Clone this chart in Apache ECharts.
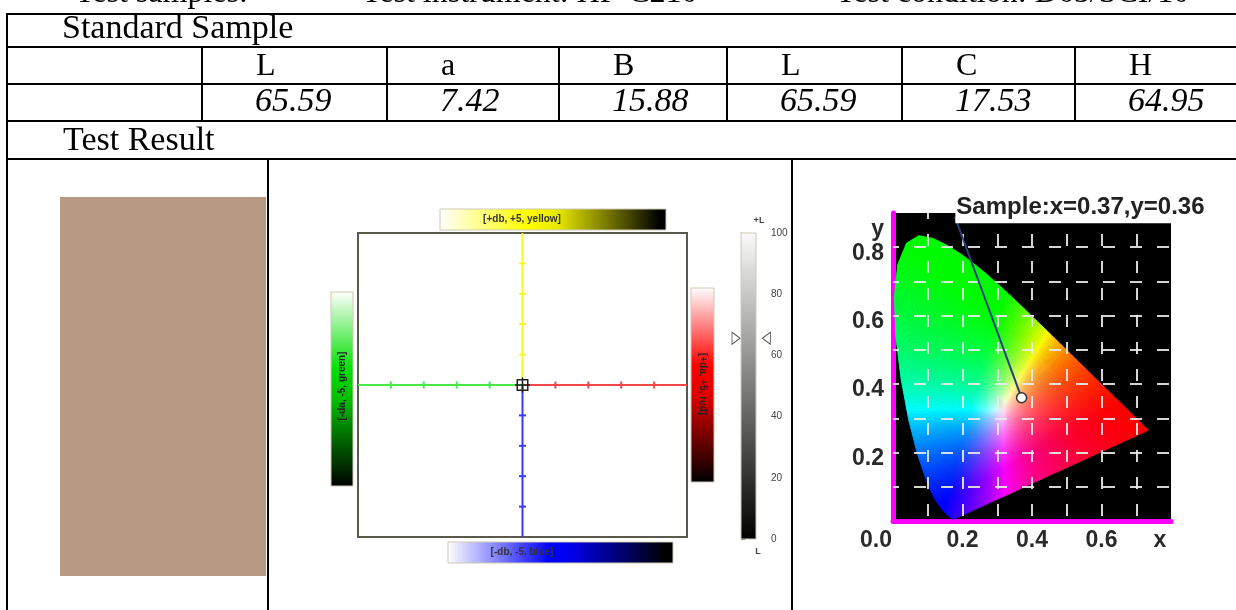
<!DOCTYPE html>
<html><head><meta charset="utf-8">
<script src="https://cdn.jsdelivr.net/npm/echarts@6/dist/echarts.min.js"></script>
<style>html,body{margin:0;padding:0;background:#fff}#c{width:1236px;height:610px}</style>
</head><body><div id="c"></div>
<script>
// ---------------- data ----------------
const headerTexts = ['Test samples:', 'Test instrument: HP-C210', 'Test condition: D65/SCI/10'];
const sectionTitles = ['Standard Sample', 'Test Result'];
const stdHeaders = ['L', 'a', 'B', 'L', 'C', 'H'];
const stdValues = [65.59, 7.42, 15.88, 65.59, 17.53, 64.95];
const sampleDa = 0, sampleDb = 0;
const abTicks = [0, 1, 2, 3, 4, 5];
const barLabels = ['[+db, +5, yellow]', '[-db, -5, blue]', '[-da, -5, green]', '[+da, +5, red]'];
const lightness = 65.59;
const sampleXY = [0.37, 0.36];
const labelAnchor = [0.178, 0.889];
// CIE 1931 spectral locus (380..700 nm)
const spectralLocus = [
  [0.1741,0.0050],[0.1733,0.0048],[0.1714,0.0051],[0.1644,0.0109],[0.1566,0.0177],
  [0.1440,0.0297],[0.1241,0.0578],[0.1096,0.0868],[0.0913,0.1327],[0.0687,0.2007],
  [0.0454,0.2950],[0.0235,0.4127],[0.0082,0.5384],[0.0039,0.6548],[0.0139,0.7502],
  [0.0389,0.8120],[0.0743,0.8338],[0.1142,0.8262],[0.1547,0.8059],[0.1929,0.7816],
  [0.2296,0.7543],[0.2658,0.7243],[0.3016,0.6923],[0.3373,0.6589],[0.3731,0.6245],
  [0.4087,0.5896],[0.4441,0.5547],[0.4788,0.5202],[0.5125,0.4866],[0.5448,0.4544],
  [0.5752,0.4242],[0.6029,0.3965],[0.6270,0.3725],[0.6658,0.3340],[0.6915,0.3083],
  [0.7079,0.2920],[0.7190,0.2809],[0.7260,0.2740],[0.7347,0.2653]
];
const whitePoint = [0.3200, 0.3250];

// ---------------- helpers ----------------
const SERIF = '"Liberation Serif","Times New Roman",serif';
const SANS = '"Liberation Sans",Arial,sans-serif';
function gam(c){ return c <= 0.0031308 ? 12.92*c : 1.055*Math.pow(c,1/2.4)-0.055; }
// chromaticity -> display colour (linear, max-normalised, as in classic CIE plots)
function xyToRgb(x, y){
  const X = x/y, Y = 1, Z = (1-x-y)/y;
  let r = 3.2406*X - 1.5372*Y - 0.4986*Z;
  let g = -0.9689*X + 1.8758*Y + 0.0415*Z;
  let b = 0.0557*X - 0.2040*Y + 1.0570*Z;
  r = Math.max(r,0); g = Math.max(g,0); b = Math.max(b,0);
  const m = Math.max(r,g,b) || 1;
  return 'rgb(' + [r/m,g/m,b/m].map(c => Math.round(255*Math.min(1,Math.max(0,c)))).join(',') + ')';
}
function labToRgb(L, a, b){
  const fy = (L+16)/116, fx = fy + a/500, fz = fy - b/200;
  const f = t => t*t*t > 0.008856 ? t*t*t : (t - 16/116)/7.787;
  const X = 0.95047*f(fx), Y = f(fy), Z = 1.08883*f(fz);
  const r = 3.2406*X - 1.5372*Y - 0.4986*Z;
  const g = -0.9689*X + 1.8758*Y + 0.0415*Z;
  const bb = 0.0557*X - 0.2040*Y + 1.0570*Z;
  return 'rgb(' + [r,g,bb].map(c => Math.round(255*Math.min(1,Math.max(0,gam(c))))).join(',') + ')';
}
function txt(text, x, y, font, o){
  o = o || {};
  return {type:'text', x:x, y:y, rotation:o.rotation||0, z:100, silent:true,
    style:{text:text, font:font, fill:o.fill||'#000', align:o.align||'left', textAlign:o.align||'left',
      verticalAlign:'middle', textVerticalAlign:'middle'}};
}
function hline(x1, x2, y){ return {type:'line', z:90, silent:true, shape:{x1:x1,y1:y,x2:x2,y2:y}, style:{stroke:'#000', lineWidth:2}}; }
function vline(x, y1, y2){ return {type:'line', z:90, silent:true, shape:{x1:x,y1:y1,x2:x,y2:y2}, style:{stroke:'#000', lineWidth:2}}; }
function gradBar(x, y, w, h, horiz, stops){
  return {type:'rect', z:50, silent:true, shape:{x:x,y:y,width:w,height:h},
    style:{fill:new echarts.graphic.LinearGradient(0,0,horiz?1:0,horiz?0:1,stops.map(s=>({offset:s[0],color:s[1]}))), stroke:'#cfc8b2', lineWidth:1}};
}

// ---------------- layout graphics ----------------
const colStarts = [202, 387, 559, 727, 902, 1075];
const g = [];
g.push(txt(headerTexts[0], 75, -6, '32px ' + SERIF));
g.push(txt(headerTexts[1], 362, -6, '32px ' + SERIF));
g.push(txt(headerTexts[2], 836, -6, '32px ' + SERIF));
[14, 47, 84, 121, 159].forEach(y => g.push(hline(6, 1236, y)));
g.push(vline(7, 13, 610));
colStarts.forEach(x => g.push(vline(x, 47, 121)));
g.push(vline(268, 159, 610));
g.push(vline(792, 159, 610));
g.push(txt(sectionTitles[0], 62, 29.5, '34px ' + SERIF));
g.push(txt(sectionTitles[1], 63, 141.5, '34px ' + SERIF));
stdHeaders.forEach((h, i) => g.push(txt(h, colStarts[i] + 54, 67, '32px ' + SERIF)));
stdValues.forEach((v, i) => g.push(txt(v.toFixed(2), colStarts[i] + 53, 102.5, 'italic 34px ' + SERIF)));
g.push({type:'rect', z:10, silent:true, shape:{x:60, y:197, width:206, height:379},
  style:{fill:labToRgb(stdValues[0], stdValues[1], stdValues[2])}});
g.push(gradBar(440, 209, 226, 21, true, [[0,'#ffffff'],[0.38,'#ffff00'],[0.52,'#e8e800'],[0.97,'#000000'],[1,'#000']]));
g.push(txt(barLabels[0], 522, 219.5, 'bold 10px ' + SANS, {align:'center', fill:'#333'}));
g.push(gradBar(448, 542, 225, 21, true, [[0,'#ffffff'],[0.45,'#0000ff'],[0.55,'#0000e8'],[0.97,'#000000'],[1,'#000']]));
g.push(txt(barLabels[1], 522, 552.5, 'bold 10px ' + SANS, {align:'center', fill:'#333'}));
g.push(gradBar(331, 292, 22, 194, false, [[0,'#ffffff'],[0.4,'#00e000'],[0.55,'#00c000'],[1,'#000000']]));
g.push(txt(barLabels[2], 342, 386, 'bold 10px ' + SANS, {align:'center', fill:'#222', rotation:Math.PI/2}));
g.push(gradBar(691, 288, 23, 194, false, [[0,'#ffffff'],[0.4,'#ff0000'],[0.55,'#e00000'],[1,'#000000']]));
g.push(txt(barLabels[3], 702.5, 384, 'bold 10px ' + SANS, {align:'center', fill:'#222', rotation:-Math.PI/2}));
g.push(gradBar(741, 233, 15, 306, false, [[0,'#fafafa'],[1,'#000000']]));
g.push(txt('+L', 759, 221, 'bold 9px ' + SANS, {align:'center', fill:'#444'}));
g.push(txt('L', 758, 552, 'bold 9px ' + SANS, {align:'center', fill:'#444'}));

// ---------------- series ----------------
const symFn = v => { const t = Math.abs(v[0]) + Math.abs(v[1]); return (t === 0 || t === 5) ? 'none' : 'rect'; };
function abLine(data, color, vertical){
  return {type:'line', xAxisIndex:0, yAxisIndex:0, data:data, showSymbol:true, symbol:symFn,
    symbolSize: vertical ? [7,2] : [2,7], itemStyle:{color:color, opacity:1}, lineStyle:{color:color, width:2},
    z:3, clip:false, silent:true, animation:false};
}
function densify(ring, step){
  const out = [];
  for (let i = 0; i < ring.length; i++){
    const p = ring[i], q = ring[(i+1)%ring.length];
    const n = Math.max(1, Math.ceil(Math.hypot(q[0]-p[0], q[1]-p[1]) / step));
    for (let k = 0; k < n; k++) out.push([p[0]+(q[0]-p[0])*k/n, p[1]+(q[1]-p[1])*k/n]);
  }
  return out;
}
const series = [
  abLine(abTicks.map(t => [-t, 0]), '#48e848', false),
  abLine(abTicks.map(t => [t, 0]), '#f04848', false),
  abLine(abTicks.map(t => [0, t]), '#f8f820', true),
  abLine(abTicks.map(t => [0, -t]), '#3a3aff', true),
  {type:'scatter', xAxisIndex:0, yAxisIndex:0, data:[[sampleDa, sampleDb]], z:5, silent:true,
    symbol:'path://M3,3H17V17H3Z M10,0V20 M0,10H20', symbolSize:15,
    itemStyle:{color:'rgba(0,0,0,0)', borderColor:'#222', borderWidth:1.5, opacity:1}},
  {type:'scatter', xAxisIndex:1, yAxisIndex:1, clip:false, silent:true, z:5,
    data:[{value:[-0.25, lightness], symbolRotate:-90}, {value:[1.27, lightness], symbolRotate:90}],
    symbol:'triangle', symbolSize:[12,8], itemStyle:{color:'#fff', borderColor:'#555', borderWidth:1, opacity:1}},
  {type:'custom', xAxisIndex:2, yAxisIndex:2, data:[[0,0]], silent:true, z:2, clip:false,
    renderItem: function(params, api){
      const ring = densify(spectralLocus, 0.006);
      const W = whitePoint, wp = api.coord(W);
      const children = [];
      for (let i = 0; i < ring.length; i++){
        const p = ring[i], q = ring[(i+1)%ring.length];
        const m = [(p[0]+q[0])/2, (p[1]+q[1])/2];
        const stops = [];
        for (let s = 0; s <= 12; s++){ const t = s/12; stops.push({offset:t, color:xyToRgb(W[0]+(m[0]-W[0])*t, W[1]+(m[1]-W[1])*t)}); }
        const mp = api.coord(m);
        const grad = {type:'linear', x:wp[0], y:wp[1], x2:mp[0], y2:mp[1], global:true, colorStops:stops};
        children.push({type:'polygon', shape:{points:[wp, api.coord(p), api.coord(q)]}, style:{fill:grad, stroke:grad, lineWidth:0.8}});
      }
      return {type:'group', children:children};
    }},
  {type:'line', xAxisIndex:2, yAxisIndex:2, data:[sampleXY, labelAnchor], symbol:'none', clip:false, silent:true,
    lineStyle:{color:'#24427c', width:2}, z:15},
  {type:'scatter', xAxisIndex:2, yAxisIndex:2, data:[labelAnchor], symbolSize:1, clip:false, silent:true, z:16,
    itemStyle:{color:'rgba(0,0,0,0)', opacity:1},
    label:{show:true, position:'right', distance:0, offset:[0,-9], opacity:1,
      formatter:'Sample:x=' + sampleXY[0].toFixed(2) + ',y=' + sampleXY[1].toFixed(2),
      color:'#222', fontFamily:SANS, fontWeight:'bold', fontSize:24, backgroundColor:'#ffffff', padding:[1,2,6,1]}},
  {type:'scatter', xAxisIndex:2, yAxisIndex:2, data:[sampleXY], symbol:'circle', symbolSize:10, silent:true, z:20,
    itemStyle:{color:'#fff', borderColor:'#333', borderWidth:1.5, opacity:1}}
];

const option = {
  animation:false,
  backgroundColor:'#fff',
  grid:[
    {left:358, top:233, width:329, height:304, show:true, backgroundColor:'#fff', borderColor:'#5a5a4c', borderWidth:2, outerBoundsMode:'none', containLabel:false},
    {left:741, top:233, width:20, height:306, show:false, outerBoundsMode:'none', containLabel:false},
    {left:893, top:213, width:278, height:308, show:true, backgroundColor:'#000', borderWidth:0, outerBoundsMode:'none', containLabel:false},
    {left:893, top:213, width:278, height:308, show:false, outerBoundsMode:'none', containLabel:false}
  ],
  xAxis:[
    {gridIndex:0, type:'value', min:-5, max:5, interval:1, show:false},
    {gridIndex:1, type:'value', min:0, max:1, show:false},
    {gridIndex:2, type:'value', min:0, max:0.8, interval:0.2,
      axisLine:{show:true, onZero:false, lineStyle:{color:'#ff00ff', width:5}}, axisTick:{show:false}, splitLine:{show:false},
      axisLabel:{show:true, margin:8, color:'#2a2a2a', fontFamily:SANS, fontWeight:'bold', fontSize:23, showMinLabel:true, showMaxLabel:true, hideOverlap:false,
        formatter: v => v === 0 ? '{z|0.0}' : (v > 0.75 ? '{x|x}' : v.toFixed(1)),
        rich:{z:{padding:[0,34,0,0], fontFamily:SANS, fontWeight:'bold', fontSize:23, color:'#2a2a2a'},
              x:{padding:[0,22,0,0], fontFamily:SANS, fontWeight:'bold', fontSize:23, color:'#2a2a2a'}}}},
    {gridIndex:3, type:'value', min:0, max:0.8, interval:0.1, z:10,
      axisLine:{show:false}, axisTick:{show:false}, axisLabel:{show:false},
      splitLine:{show:true, showMinLine:false, showMaxLine:false, lineStyle:{color:'rgba(235,235,235,0.9)', width:2, type:[12,15], dashOffset:6}}}
  ],
  yAxis:[
    {gridIndex:0, type:'value', min:-5, max:5, interval:1, show:false},
    {gridIndex:1, type:'value', min:0, max:100, interval:20, position:'right',
      axisLine:{show:true, lineStyle:{color:'#555', width:1}}, axisTick:{show:true, length:4, lineStyle:{color:'#555'}},
      splitLine:{show:false},
      axisLabel:{show:true, margin:10, color:'#444', fontFamily:SANS, fontSize:10}},
    {gridIndex:2, type:'value', min:0, max:0.9, interval:0.2,
      axisLine:{show:true, onZero:false, lineStyle:{color:'#ff00ff', width:5}}, axisTick:{show:false}, splitLine:{show:false},
      axisLabel:{show:true, margin:9, color:'#2a2a2a', fontFamily:SANS, fontWeight:'bold', fontSize:23, showMinLabel:true, showMaxLabel:true, hideOverlap:false,
        formatter: v => v === 0 ? '' : (v > 0.85 ? '{n|y}' : '{t|' + v.toFixed(1) + '}'),
        rich:{t:{padding:[12,0,0,0], fontFamily:SANS, fontWeight:'bold', fontSize:23, color:'#2a2a2a'},
              n:{padding:[34,0,0,0], fontFamily:SANS, fontWeight:'bold', fontSize:23, color:'#2a2a2a'}}}},
    {gridIndex:3, type:'value', min:0, max:0.9, interval:0.1, z:10,
      axisLine:{show:false}, axisTick:{show:false}, axisLabel:{show:false},
      splitLine:{show:true, showMinLine:false, showMaxLine:false, lineStyle:{color:'rgba(235,235,235,0.9)', width:2, type:[12,15], dashOffset:6}}}
  ],
  series:series,
  graphic:{elements:g}
};
const chart = echarts.init(document.getElementById('c'), null, {renderer:'canvas'});
chart.setOption(option);
</script>
</body></html>
